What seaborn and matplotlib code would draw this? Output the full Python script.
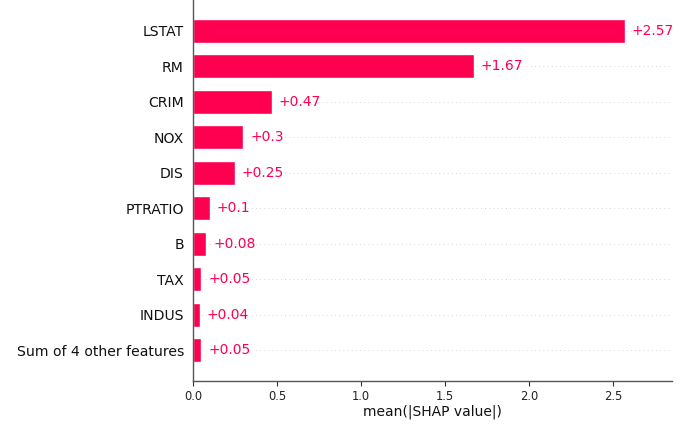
import matplotlib
matplotlib.use("Agg")
import matplotlib.pyplot as plt
import seaborn as sns
import pandas as pd

features = ["LSTAT", "RM", "CRIM", "NOX", "DIS", "PTRATIO", "B", "TAX", "INDUS",
            "Sum of 4 other features"]
values = [2.57, 1.67, 0.47, 0.30, 0.25, 0.10, 0.08, 0.05, 0.04, 0.05]
value_labels = ["+2.57", "+1.67", "+0.47", "+0.3", "+0.25", "+0.1", "+0.08",
                "+0.05", "+0.04", "+0.05"]
x_ticks = [0.0, 0.5, 1.0, 1.5, 2.0, 2.5]

sns.set_style("white")
plt.rcParams['font.family'] = ['DejaVu Sans']

red = "#ff0051"
df = pd.DataFrame({"feature": features, "value": values})

fig = plt.figure(figsize=(7.0, 4.28), dpi=100)
ax = fig.add_axes([0.2757, 0.1098, 0.6843, 0.8902])

for i in range(len(features)):
    ax.axhline(i, color="#cccccc", lw=0.6, dashes=(1, 4), zorder=-1)

sns.barplot(data=df, x="value", y="feature", orient="h", color=red,
            width=0.68, saturation=1, ax=ax, zorder=2)

for i, (v, lab) in enumerate(zip(values, value_labels)):
    ax.annotate(lab, xy=(v, i), xytext=(5, 0), textcoords="offset points",
                va="center", ha="left", color=red, fontsize=10)

ax.set_xlim(0, 2.85)
ax.set_ylim(len(features) - 1 + 0.87, -0.87)
ax.set_xticks(x_ticks)
ax.set_xticklabels([f"{t:.1f}" for t in x_ticks], fontsize=8.3)
ax.set_yticks(range(len(features)))
ax.set_yticklabels(features, fontsize=10.1, color="#111111")
ax.tick_params(axis="y", length=0, pad=6.5)
ax.tick_params(axis="x", length=3.5, width=0.8, color="#333333", labelcolor="#222222", pad=3, bottom=True)
ax.set_xlabel("mean(|SHAP value|)", fontsize=10, color="#111111", labelpad=1)
ax.set_ylabel("")

for s in ["top", "right"]:
    ax.spines[s].set_visible(False)
for s in ["left", "bottom"]:
    ax.spines[s].set_color("#555555")
    ax.spines[s].set_linewidth(1.0)

fig.savefig("out.png", dpi=100)
